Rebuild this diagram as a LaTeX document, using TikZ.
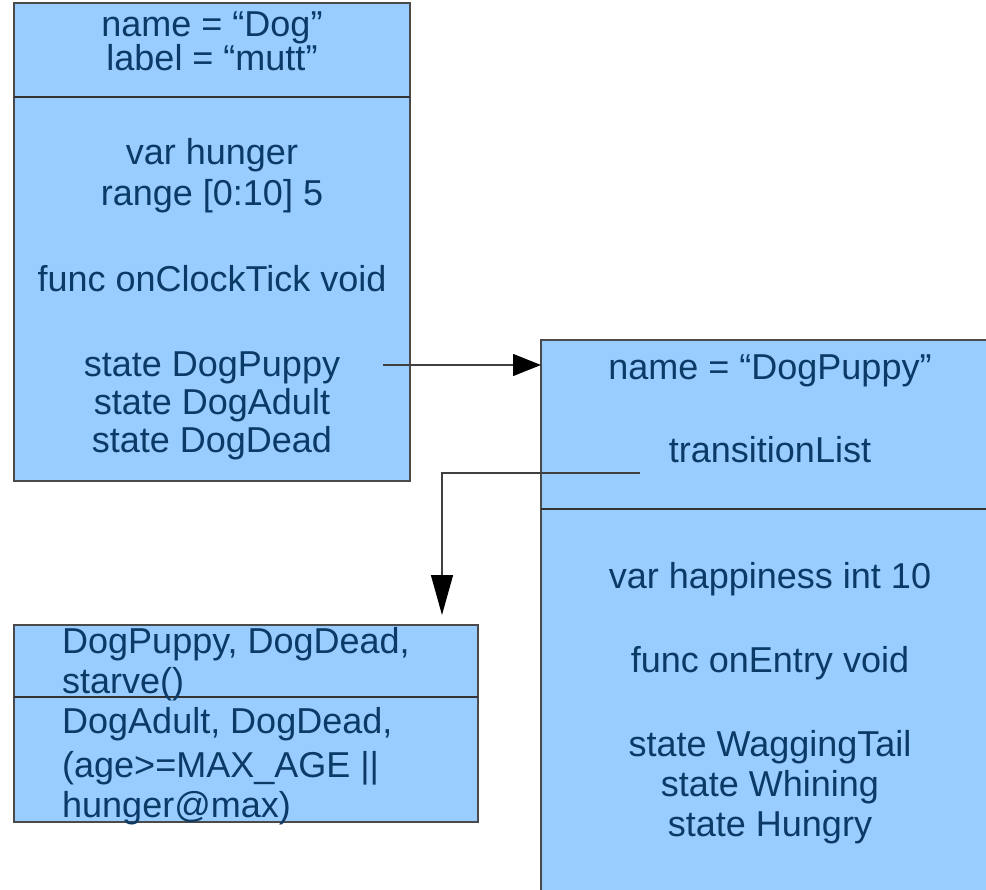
\documentclass[tikz,border=0pt]{standalone}
\usepackage{fontspec}
\setmainfont{Liberation Sans}
\usetikzlibrary{arrows.meta}
\definecolor{boxfill}{HTML}{99CCFF}
\definecolor{txtcol}{HTML}{0B3A66}
\definecolor{edgecol}{HTML}{4A4A4A}
\tikzset{
  umlbox/.style={draw=edgecol, line width=1.5pt, fill=boxfill, inner sep=0pt, outer sep=0pt, anchor=north west},
  divline/.style={draw=black!80, line width=1.6pt},
  lbl/.style={text=txtcol, font=\fontsize{36pt}{40pt}\selectfont, inner sep=0pt, anchor=base},
  lbll/.style={lbl, anchor=base west},
  conn/.style={draw=black!75, line width=1.3pt},
}
\begin{document}
\begin{tikzpicture}[x=1pt,y=-1pt]
\clip (0,0) rectangle (986,890);
\fill[white] (0,0) rectangle (986,890);
% boxes
\node[umlbox, minimum width=396pt, minimum height=478pt] (dog) at (14,3) {};
\node[umlbox, minimum width=470pt, minimum height=580pt] (puppy) at (541,340) {};
\node[umlbox, minimum width=464pt, minimum height=197pt] (trans) at (14,625) {};
% dividers
\draw[divline] (14,97) -- (410,97);
\draw[divline] (541,509) -- (986,509);
\draw[divline] (14,697) -- (478,697);
% top-left box text
\node[lbl] (d1) at (212,37) {name = “Dog”};
\node[lbl] (d2) at (212,71) {label = “mutt”};
\node[lbl] (d3) at (212,165) {var hunger};
\node[lbl] (d4) at (212,206) {range [0:10] 5};
\node[lbl] (d5) at (212,292) {func onClockTick void};
\node[lbl] (d6) at (212,377) {state DogPuppy};
\node[lbl] (d7) at (212,415) {state DogAdult};
\node[lbl] (d8) at (212,453) {state DogDead};
% right box text
\node[lbl] (p1) at (770,380) {name = “DogPuppy”};
\node[lbl] (p2) at (770,463) {transitionList};
\node[lbl] (p3) at (770,588) {var happiness int 10};
\node[lbl] (p4) at (770,672) {func onEntry void};
\node[lbl] (p5) at (770,756) {state WaggingTail};
\node[lbl] (p6) at (770,796) {state Whining};
\node[lbl] (p7) at (770,836) {state Hungry};
% bottom-left box text
\node[lbll] (t1) at (62,653) {DogPuppy, DogDead,};
\node[lbll] (t2) at (62,693) {starve()};
\node[lbll] (t3) at (62,733) {DogAdult, DogDead,};
\node[lbll] (t4) at (62,777) {(age>=MAX\_AGE ||};
\node[lbll] (t5) at (62,817) {hunger@max)};
% connectors
\coordinate (s1) at (383,365);
\draw[conn, -{Triangle[length=28pt,width=22pt,color=black]}] (s1) -- (s1 -| puppy.west);
\coordinate (s2) at (640,473);
\coordinate (bend) at (442,473);
\draw[conn, -{Triangle[length=40pt,width=22pt,color=black]}] (s2) -- (bend) -- ([yshift=10pt]bend |- trans.north);
\end{tikzpicture}
\end{document}
